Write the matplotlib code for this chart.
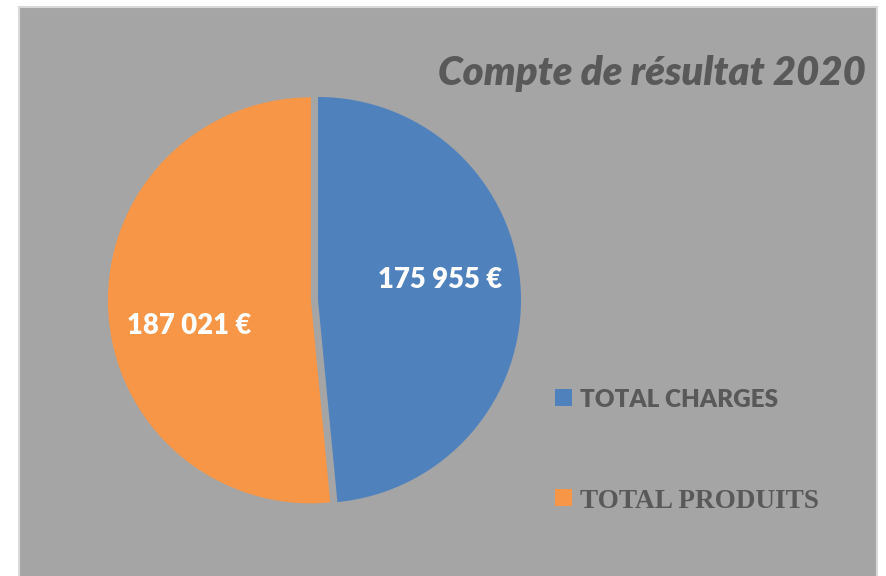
import matplotlib
matplotlib.use("Agg")
import matplotlib.pyplot as plt
from matplotlib.patches import Rectangle

# ---- data ----
categories = ["TOTAL CHARGES", "TOTAL PRODUITS"]
values = [175955, 187021]
value_labels = ["175 955 €", "187 021 €"]
title = "Compte de résultat 2020"
colors = ["#4F81BD", "#F79646"]

W, H = 886, 576
fig = plt.figure(figsize=(W / 100, H / 100), dpi=100)
fig.patch.set_facecolor("white")

# gray chart area with light border
bg = Rectangle((19 / W, -0.01), (877 - 19) / W, (H - 7) / H + 0.01,
               transform=fig.transFigure, facecolor="#A5A5A5",
               edgecolor="#D9D9D9", linewidth=1.5, zorder=-10)
fig.patches.append(bg)

renderer = fig.canvas.get_renderer()


def fit_text(x0, y_center, s, target_w, **kw):
    t = fig.text(x0 / W, 1 - y_center / H, s, ha="left", va="center_baseline",
                 zorder=5, **kw)
    fs = t.get_fontsize()
    bb = t.get_window_extent(renderer)
    t.set_fontsize(fs * target_w / bb.width)
    return t


# title
fit_text(438, 70, title, 429, fontsize=24, fontweight="heavy", style="italic",
         family=["Lato", "DejaVu Sans"], color="#595959")

# pie axes
r = 203
cx, cy = 318, 300
half = 1.1 * r
ax = fig.add_axes([(cx - half) / W, (H - cy - half) / H, 2 * half / W, 2 * half / H])
ax.set_zorder(1)
ax.pie(values, colors=colors, startangle=90, counterclock=False,
       explode=[0, 0.035], radius=1.0,
       wedgeprops=dict(edgecolor="none", linewidth=0))
ax.set_xlim(-1.1, 1.1)
ax.set_ylim(-1.1, 1.1)
ax.set_aspect("equal")
ax.axis("off")

# data labels
lab_pos = [(440, 278), (189, 324)]
lab_w = [125, 125]
for (px, py), s, w in zip(lab_pos, value_labels, lab_w):
    fit_text(px - w / 2, py, s, w, fontsize=16, fontweight="heavy",
             family=["Lato", "DejaVu Sans"], color="white")

# legend
leg_y = [397, 497]
leg_w = [198, 240]
leg_fonts = [["Lato", "DejaVu Sans"], ["Liberation Serif", "DejaVu Serif"]]
for c, name, y, w, fam in zip(colors, categories, leg_y, leg_w, leg_fonts):
    fig.patches.append(Rectangle((555 / W, 1 - (y + 8.5) / H), 17 / W, 17 / H,
                                 transform=fig.transFigure, facecolor=c,
                                 edgecolor="none", zorder=2))
    fit_text(580, y + 1, name, w, fontsize=16, fontweight="heavy",
             family=fam, color="#595959")

fig.savefig("out.png", dpi=100, facecolor=fig.get_facecolor())
